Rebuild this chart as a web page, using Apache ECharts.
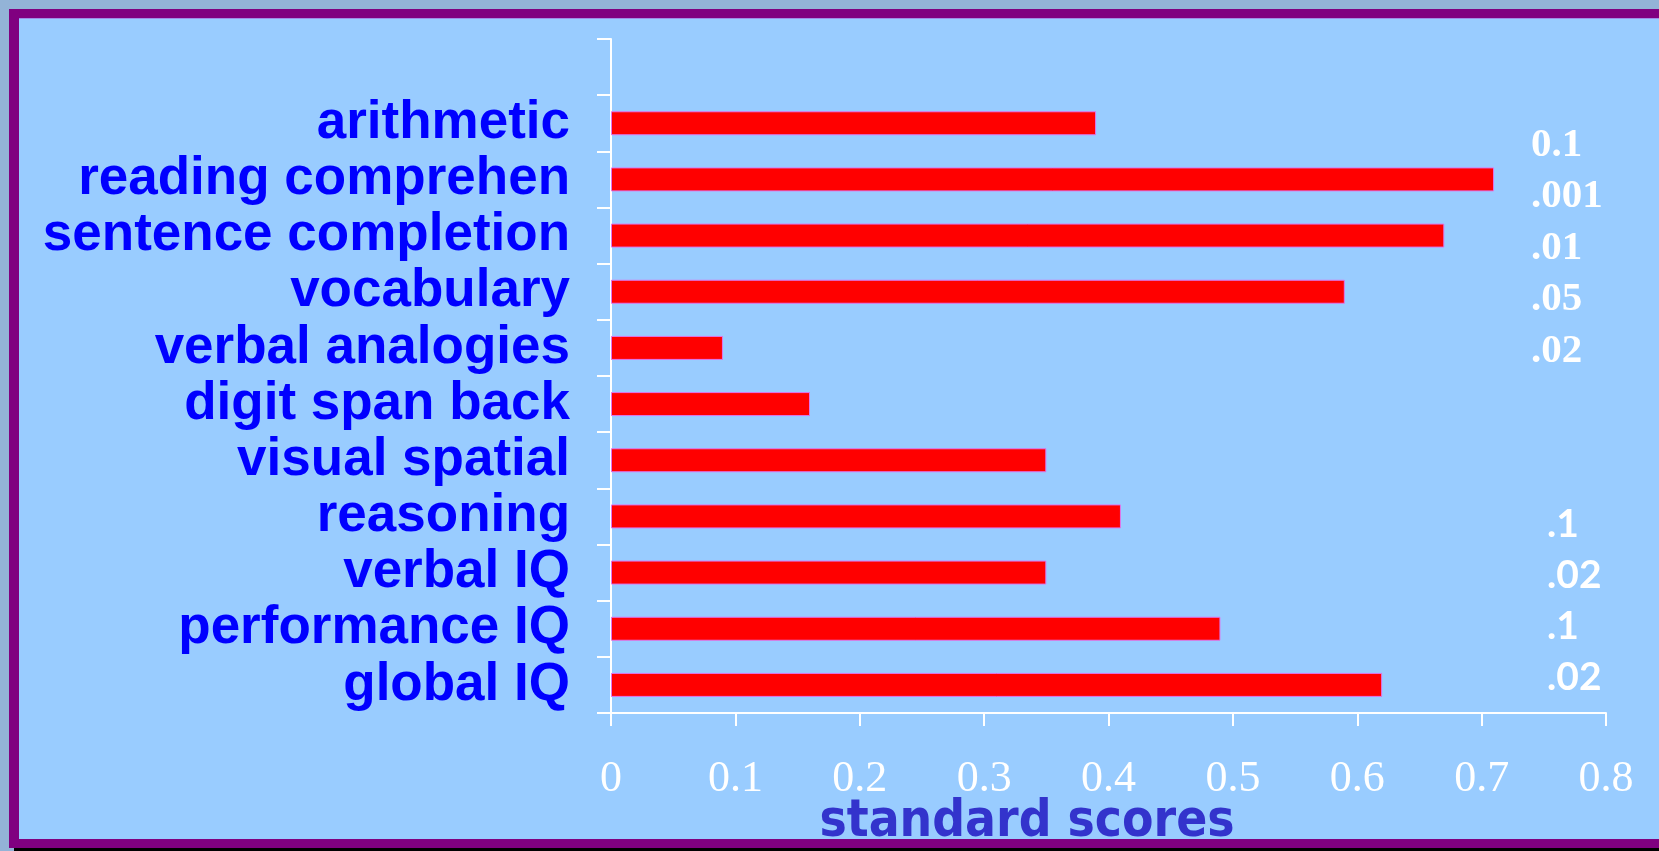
<!DOCTYPE html>
<html>
<head>
<meta charset="utf-8">
<script src="https://cdn.jsdelivr.net/npm/echarts@6/dist/echarts.min.js"></script>
<style>
  html, body { margin: 0; padding: 0; background: #93B3D7; }
  #chart { width: 1659px; height: 851px; }
</style>
</head>
<body>
<div id="chart"></div>
<script>
// Categories listed bottom-to-top (ECharts category y axis starts at the bottom);
// the last, empty entry leaves a blank row above "arithmetic".
const categories = [
  'global IQ', 'performance IQ', 'verbal IQ', 'reasoning', 'visual spatial',
  'digit span back', 'verbal analogies', 'vocabulary', 'sentence completion',
  'reading comprehen', 'arithmetic', ''
];
const scores = [0.62, 0.49, 0.35, 0.41, 0.35, 0.16, 0.09, 0.59, 0.67, 0.71, 0.39, null];

// x axis tick labels
const xTickLabels = ['0', '0.1', '0.2', '0.3', '0.4', '0.5', '0.6', '0.7', '0.8'];

// significance levels shown at the right
const pUpper = ['0.1', '.001', '.01', '.05', '.02'];
const pLower = ['.1', '.02', '.1', '.02'];

const axisTitle = 'standard scores';

const W = 1659, H = 851;

const frame = [
  // outer page strip
  { type: 'rect', z: -10, shape: { x: 0, y: 0, width: W, height: H }, style: { fill: '#93B3D7' } },
  // purple frame
  { type: 'rect', z: -9, shape: { x: 9, y: 9, width: W - 9, height: 839 }, style: { fill: '#800080' } },
  // black shadow line below the frame
  { type: 'rect', z: -9, shape: { x: 14, y: 848, width: W - 14, height: 3 }, style: { fill: '#000000' } },
  // light blue panel
  { type: 'rect', z: -8, shape: { x: 19, y: 19, width: W - 19, height: 820 }, style: { fill: '#99CCFF' } },
  { type: 'rect', z: -8, shape: { x: 19, y: 18, width: W - 19, height: 1 }, style: { fill: '#A08CE6' } }
];

const notes = [];
pUpper.forEach((t, i) => {
  notes.push({
    type: 'text', z: 50,
    style: {
      text: t, x: 1531, y: 145 + i * 51.5,
      fill: '#FFFFFF', font: 'bold 41px "Liberation Serif", serif',
      align: 'left', verticalAlign: 'middle'
    }
  });
});
pLower.forEach((t, i) => {
  notes.push({
    type: 'text', z: 50,
    style: {
      text: t, x: 1547, y: 524 + i * 51,
      fill: '#FFFFFF', font: 'bold 39px Lato, "Open Sans", sans-serif',
      align: 'left', verticalAlign: 'middle'
    }
  });
});

const titleEls = [
  {
    type: 'text', z: 40,
    style: {
      text: axisTitle, x: 1027, y: 823,
      fill: '#3333CC', font: 'bold 51px "DejaVu Sans Condensed", "DejaVu Sans", sans-serif',
      align: 'center', verticalAlign: 'middle'
    }
  },
  // bottom edge of the frame drawn over the title
  { type: 'rect', z: 60, shape: { x: 9, y: 839, width: W - 9, height: 9 }, style: { fill: '#800080' } }
];

const chart = echarts.init(document.getElementById('chart'), null, { renderer: 'canvas', width: W, height: H });

chart.setOption({
  animation: false,
  backgroundColor: 'transparent',
  graphic: { elements: frame.concat(notes, titleEls) },
  grid: { left: 611, right: 53, top: 39, bottom: 138, containLabel: false },
  xAxis: {
    type: 'value',
    min: 0, max: 0.8, interval: 0.1,
    splitLine: { show: false },
    axisLine: { show: true, lineStyle: { color: '#FFFFFF', width: 2 } },
    axisTick: { show: true, length: 13, lineStyle: { color: '#FFFFFF', width: 2 } },
    axisLabel: {
      color: '#FFFFFF',
      fontFamily: '"Liberation Serif", serif',
      fontSize: 44,
      margin: 44,
      formatter: (v) => xTickLabels[Math.round(v * 10)]
    }
  },
  yAxis: {
    type: 'category',
    data: categories,
    boundaryGap: true,
    axisLine: { show: true, lineStyle: { color: '#FFFFFF', width: 2 } },
    axisTick: { show: true, length: 14, alignWithLabel: false, lineStyle: { color: '#FFFFFF', width: 2 } },
    axisLabel: {
      interval: 0,
      color: '#0000FF',
      fontFamily: '"Liberation Sans", Arial, sans-serif',
      fontWeight: 'bold',
      fontSize: 53,
      margin: 41
    }
  },
  series: [{
    type: 'bar',
    data: scores,
    barWidth: 24,
    itemStyle: { color: '#FF0000', borderColor: '#DD77EE', borderWidth: 1 }
  }]
});
</script>
</body>
</html>
